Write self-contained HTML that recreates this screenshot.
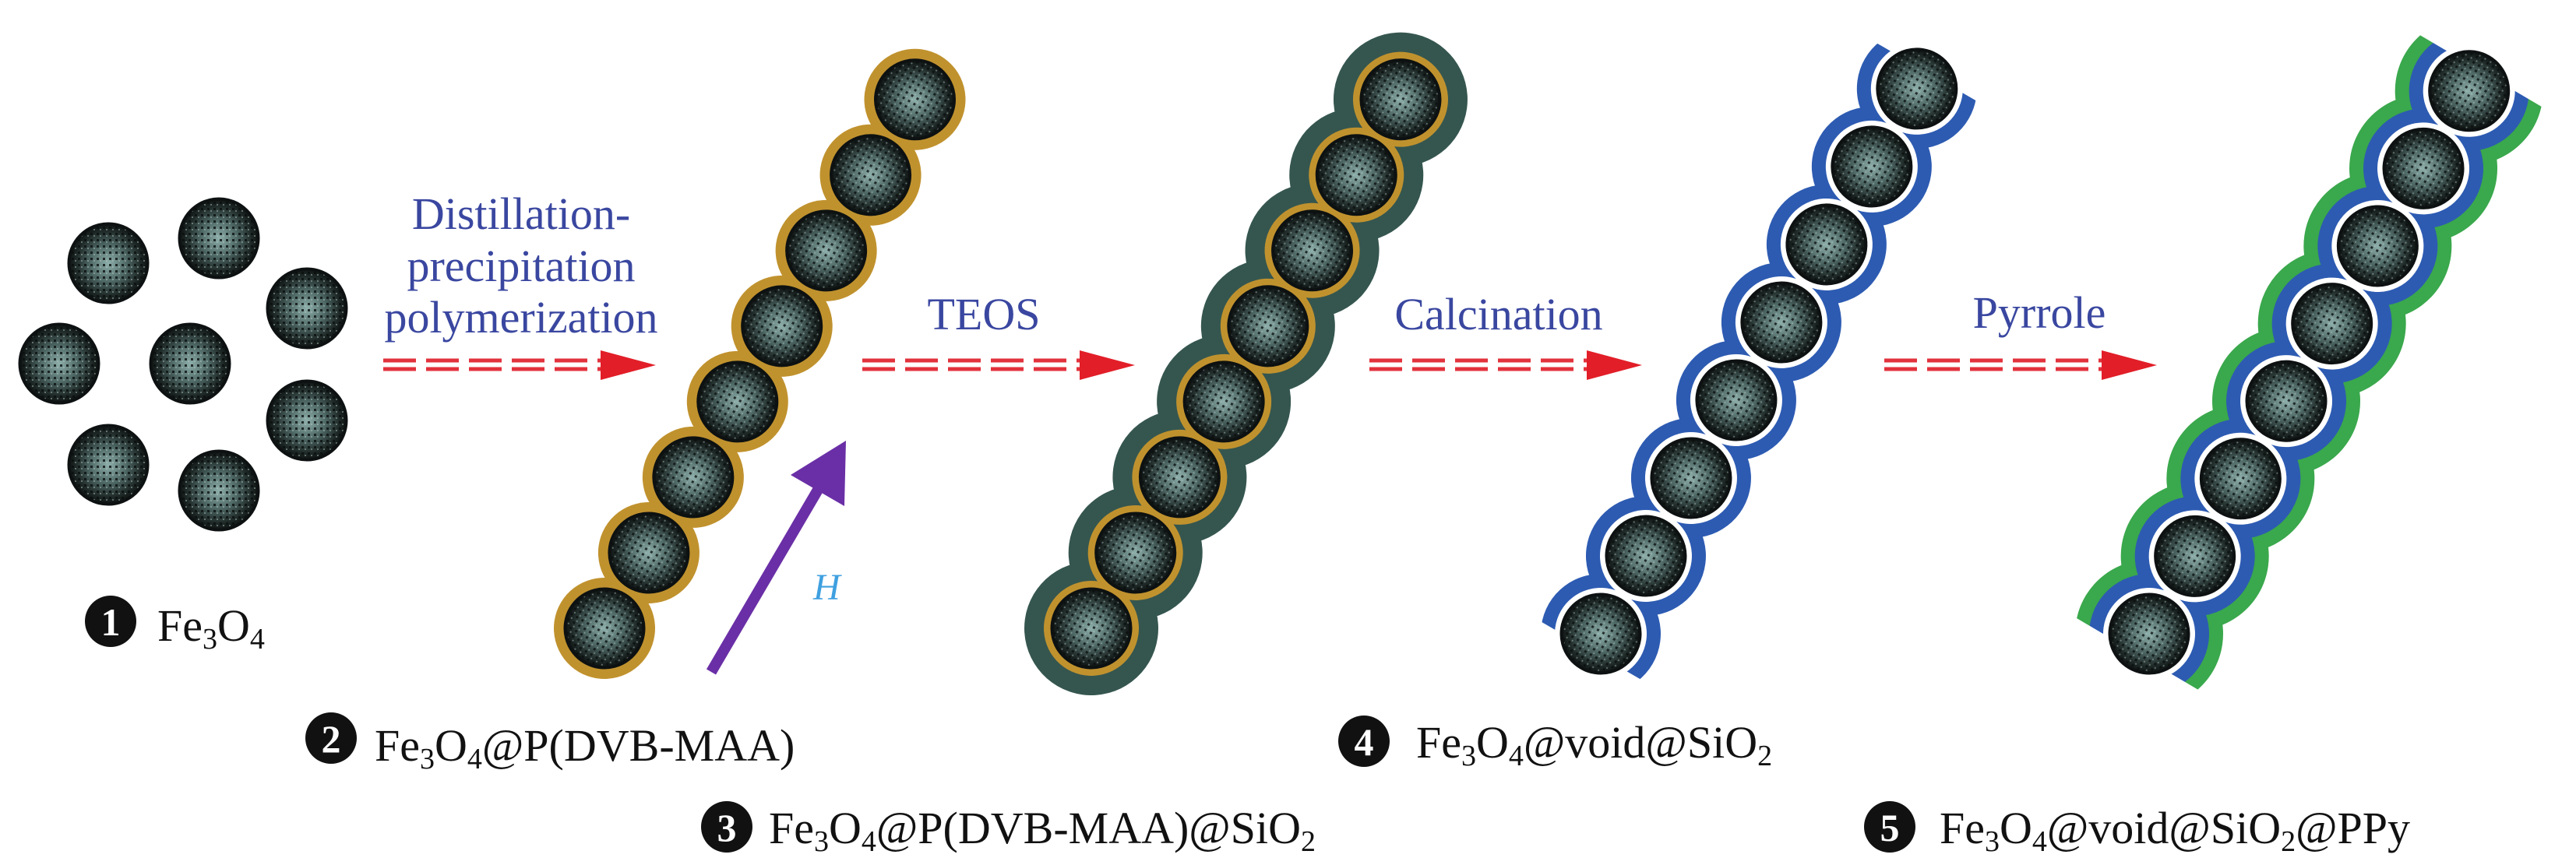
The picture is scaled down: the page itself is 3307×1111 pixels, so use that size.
<!DOCTYPE html>
<html><head><meta charset="utf-8"><style>
html,body{margin:0;padding:0;background:#fff;}
svg{display:block;}
svg text{font-family:"Liberation Serif","DejaVu Serif",serif;}
</style></head><body>
<svg width="3307" height="1111" viewBox="0 0 3307 1111" xmlns="http://www.w3.org/2000/svg" font-family="Liberation Serif, DejaVu Serif, serif">
<defs>
<radialGradient id="cg" cx="50%" cy="50%" r="50%">
<stop offset="0" stop-color="#8fb0ac"/>
<stop offset="0.45" stop-color="#4f6966"/>
<stop offset="0.8" stop-color="#1f2a28"/>
<stop offset="1" stop-color="#0b0f0e"/>
</radialGradient>
<pattern id="dots" width="8" height="8" patternUnits="userSpaceOnUse">
<rect x="1" y="1" width="3" height="3" fill="#0a0f0e" opacity="0.8"/>
<rect x="5" y="4" width="2" height="2" fill="#b8ccc8" opacity="0.45"/>
</pattern>
<g id="core"><circle r="52" fill="url(#cg)"/><circle r="52" fill="url(#dots)"/><circle r="50.5" fill="none" stroke="#0d1111" stroke-width="4"/></g>
<g id="dash">
<line x1="0" y1="-6" x2="280" y2="-6" stroke="#e2323c" stroke-width="5" stroke-dasharray="42 13"/>
<line x1="0" y1="5" x2="280" y2="5" stroke="#e2323c" stroke-width="5" stroke-dasharray="42 13"/>
<polygon points="279,-19 350,0 279,19" fill="#e21e28"/>
</g>
</defs>

<use href="#core" x="139" y="338"/>
<use href="#core" x="281" y="306"/>
<use href="#core" x="394" y="396"/>
<use href="#core" x="76" y="467"/>
<use href="#core" x="244" y="467"/>
<use href="#core" x="394" y="540"/>
<use href="#core" x="139" y="597"/>
<use href="#core" x="281" y="630"/>

<use href="#dash" x="492" y="469"/>
<use href="#dash" x="1107" y="469"/>
<use href="#dash" x="1758" y="469"/>
<use href="#dash" x="2419" y="469"/>

<g fill="#3a47a0" font-size="58" text-anchor="middle" font-family="Liberation Serif, serif">
<text x="669" y="294">Distillation-</text>
<text x="669" y="361">precipitation</text>
<text x="669" y="427">polymerization</text>
<text x="1263" y="423">TEOS</text>
<text x="1924" y="423">Calcination</text>
<text x="2618" y="421">Pyrrole</text>
</g>

<g transform="translate(776,807) rotate(-59.6)">
<g fill="#c0922e">
<circle cx="0" r="65"/><circle cx="112.5" r="65"/><circle cx="225" r="65"/><circle cx="337.5" r="65"/><circle cx="450" r="65"/><circle cx="562.5" r="65"/><circle cx="675" r="65"/><circle cx="787.5" r="65"/>
</g>
<use href="#core" x="0"/><use href="#core" x="112.5"/><use href="#core" x="225"/><use href="#core" x="337.5"/><use href="#core" x="450"/><use href="#core" x="562.5"/><use href="#core" x="675"/><use href="#core" x="787.5"/>
</g>
<line x1="913" y1="863" x2="1060" y2="612" stroke="#6a2fa6" stroke-width="14"/>
<polygon points="1086,566 1084,650 1015,610" fill="#6a2fa6"/>
<text x="1044" y="770" font-size="48" font-style="italic" fill="#3fa0e0" font-family="Liberation Serif, serif">H</text>

<g transform="translate(1401,807) rotate(-59.7)">
<g fill="#35564f">
<circle cx="0" r="86"/><circle cx="112.4" r="86"/><circle cx="224.8" r="86"/><circle cx="337.2" r="86"/><circle cx="449.6" r="86"/><circle cx="562" r="86"/><circle cx="674.4" r="86"/><circle cx="786.8" r="86"/>
</g>
<g fill="#c0922e">
<circle cx="0" r="61"/><circle cx="112.4" r="61"/><circle cx="224.8" r="61"/><circle cx="337.2" r="61"/><circle cx="449.6" r="61"/><circle cx="562" r="61"/><circle cx="674.4" r="61"/><circle cx="786.8" r="61"/>
</g>
<use href="#core" x="0"/><use href="#core" x="112.4"/><use href="#core" x="224.8"/><use href="#core" x="337.2"/><use href="#core" x="449.6"/><use href="#core" x="562"/><use href="#core" x="674.4"/><use href="#core" x="786.8"/>
</g>

<g transform="translate(2055,814) rotate(-59.9)">
<g fill="#2d5bb2">
<circle cx="0" r="77"/><circle cx="115.6" r="77"/><circle cx="231.2" r="77"/><circle cx="346.8" r="77"/><circle cx="462.4" r="77"/><circle cx="578" r="77"/><circle cx="693.6" r="77"/><circle cx="809.2" r="77"/>
</g>
<rect x="-120" y="-100" width="95" height="200" fill="#fff"/>
<rect x="834" y="-100" width="95" height="200" fill="#fff"/>
<g fill="#fff">
<circle cx="0" r="59"/><circle cx="115.6" r="59"/><circle cx="231.2" r="59"/><circle cx="346.8" r="59"/><circle cx="462.4" r="59"/><circle cx="578" r="59"/><circle cx="693.6" r="59"/><circle cx="809.2" r="59"/>
</g>
<use href="#core" x="0"/><use href="#core" x="115.6"/><use href="#core" x="231.2"/><use href="#core" x="346.8"/><use href="#core" x="462.4"/><use href="#core" x="578"/><use href="#core" x="693.6"/><use href="#core" x="809.2"/>
</g>

<g transform="translate(2759,814) rotate(-59.5)">
<g fill="#3aa84c">
<circle cx="0" r="95"/><circle cx="115.6" r="95"/><circle cx="231.2" r="95"/><circle cx="346.8" r="95"/><circle cx="462.4" r="95"/><circle cx="578" r="95"/><circle cx="693.6" r="95"/><circle cx="809.2" r="95"/>
</g>
<g fill="#2d5bb2">
<circle cx="0" r="77"/><circle cx="115.6" r="77"/><circle cx="231.2" r="77"/><circle cx="346.8" r="77"/><circle cx="462.4" r="77"/><circle cx="578" r="77"/><circle cx="693.6" r="77"/><circle cx="809.2" r="77"/>
</g>
<rect x="-140" y="-120" width="110" height="240" fill="#fff"/>
<rect x="839" y="-120" width="110" height="240" fill="#fff"/>
<g fill="#fff">
<circle cx="0" r="59"/><circle cx="115.6" r="59"/><circle cx="231.2" r="59"/><circle cx="346.8" r="59"/><circle cx="462.4" r="59"/><circle cx="578" r="59"/><circle cx="693.6" r="59"/><circle cx="809.2" r="59"/>
</g>
<use href="#core" x="0"/><use href="#core" x="115.6"/><use href="#core" x="231.2"/><use href="#core" x="346.8"/><use href="#core" x="462.4"/><use href="#core" x="578"/><use href="#core" x="693.6"/><use href="#core" x="809.2"/>
</g>

<g font-size="58" fill="#111" font-family="Liberation Serif, serif">
<circle cx="142" cy="798" r="33" fill="#111"/>
<text x="142" y="816" font-size="50" font-weight="bold" fill="#fff" text-anchor="middle">1</text>
<text x="202" y="823">Fe<tspan font-size="38" dy="10">3</tspan><tspan dy="-10">O</tspan><tspan font-size="38" dy="10">4</tspan></text>

<circle cx="425" cy="948" r="33" fill="#111"/>
<text x="425" y="966" font-size="50" font-weight="bold" fill="#fff" text-anchor="middle">2</text>
<text x="481" y="977">Fe<tspan font-size="38" dy="10">3</tspan><tspan dy="-10">O</tspan><tspan font-size="38" dy="10">4</tspan><tspan dy="-10">@P(DVB-MAA)</tspan></text>

<circle cx="933" cy="1062" r="33" fill="#111"/>
<text x="933" y="1080" font-size="50" font-weight="bold" fill="#fff" text-anchor="middle">3</text>
<text x="987" y="1083">Fe<tspan font-size="38" dy="10">3</tspan><tspan dy="-10">O</tspan><tspan font-size="38" dy="10">4</tspan><tspan dy="-10">@P(DVB-MAA)@SiO</tspan><tspan font-size="38" dy="10">2</tspan></text>

<circle cx="1751" cy="952" r="33" fill="#111"/>
<text x="1751" y="970" font-size="50" font-weight="bold" fill="#fff" text-anchor="middle">4</text>
<text x="1818" y="973">Fe<tspan font-size="38" dy="10">3</tspan><tspan dy="-10">O</tspan><tspan font-size="38" dy="10">4</tspan><tspan dy="-10">@void@SiO</tspan><tspan font-size="38" dy="10">2</tspan></text>

<circle cx="2426" cy="1062" r="33" fill="#111"/>
<text x="2426" y="1080" font-size="50" font-weight="bold" fill="#fff" text-anchor="middle">5</text>
<text x="2490" y="1083">Fe<tspan font-size="38" dy="10">3</tspan><tspan dy="-10">O</tspan><tspan font-size="38" dy="10">4</tspan><tspan dy="-10">@void@SiO</tspan><tspan font-size="38" dy="10">2</tspan><tspan dy="-10">@PPy</tspan></text>
</g>
</svg>
</body></html>
